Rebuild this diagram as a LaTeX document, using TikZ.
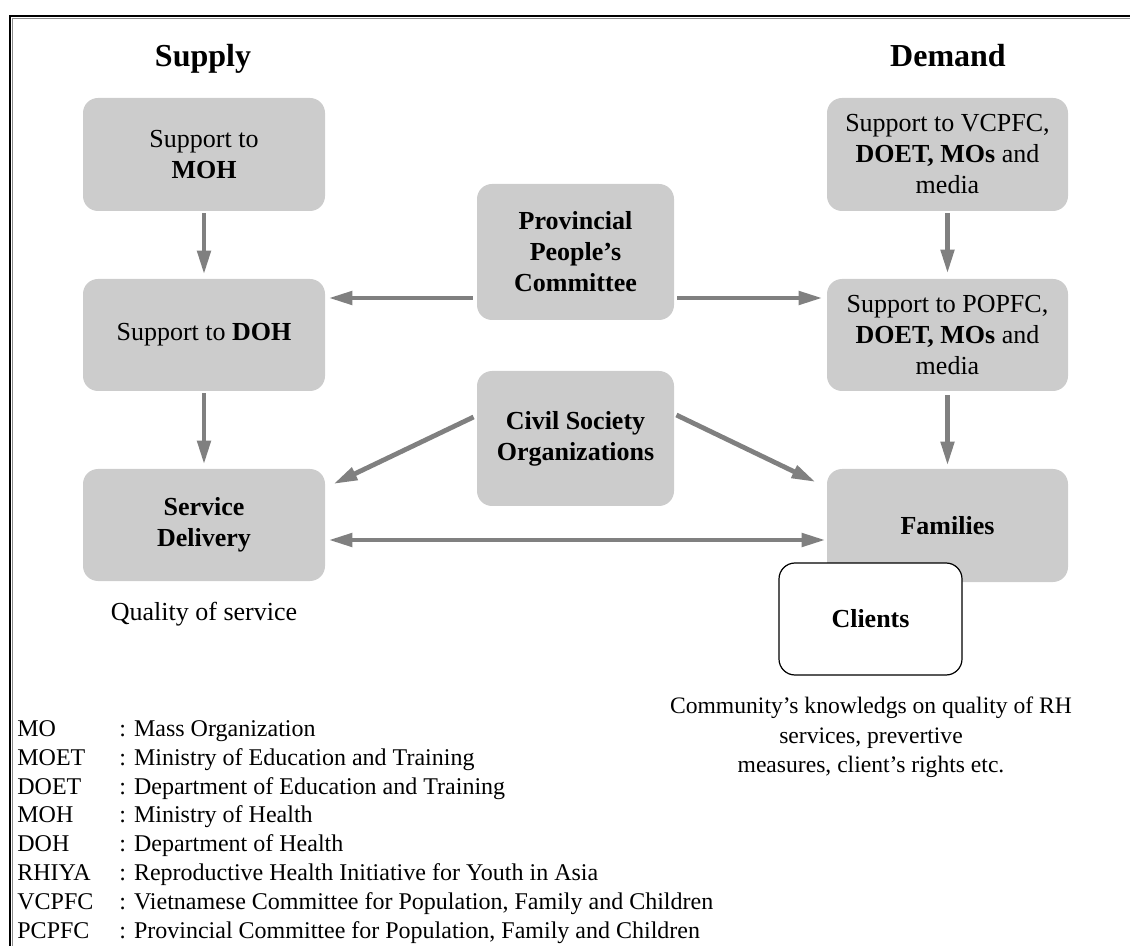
\documentclass[tikz,border=0pt]{standalone}
\usepackage{fontspec}
\setmainfont{Liberation Serif}
\usetikzlibrary{arrows.meta,calc}
\definecolor{boxgray}{HTML}{CCCCCC}
\definecolor{arrgray}{HTML}{808080}
\definecolor{framegray}{HTML}{8C8C8C}
\begin{document}
\begin{tikzpicture}[x=0.5pt,y=-0.5pt,
  box/.style={fill=boxgray, rounded corners=7.5pt, minimum width=121pt, minimum height=56pt,
              align=center, inner sep=0pt, font=\fontsize{13}{15.5}\selectfont},
  clientbox/.style={fill=white, draw=black, line width=0.6pt, rounded corners=8pt,
              minimum width=91.5pt, minimum height=56pt, inner sep=0pt,
              font=\fontsize{13}{15.5}\selectfont\bfseries},
  arr/.style={draw=arrgray, line width=2.4pt, -{Triangle[length=12pt,width=6.5pt]}},
  darr/.style={draw=arrgray, line width=2.4pt, {Triangle[length=12pt,width=6.5pt]}-{Triangle[length=12pt,width=6.5pt]}},
  head/.style={inner sep=0pt, anchor=base, font=\fontsize{16}{19}\selectfont\bfseries},
  txt/.style={inner sep=0pt, font=\fontsize{13}{15.5}\selectfont},
  comtxt/.style={inner sep=0pt, anchor=base, font=\fontsize{11.8}{14}\selectfont},
  leg/.style={inner sep=0pt, anchor=base west, font=\fontsize{12}{14}\selectfont}
]
\useasboundingbox (0,0) rectangle (1130,946);
% frame
\draw[black, line width=0.75pt] (10,946) -- (10,16) -- (1130,16);
\draw[framegray, line width=0.5pt] (12.5,946) -- (12.5,18.5) -- (1130,18.5);

% headings
\node[head] (sup) at (203,67) {Supply};
\node[head] (dem) at (948,67) {Demand};

% left column
\node[box, minimum height=56.5pt] (moh) at (204,154.5) {Support to\\\textbf{MOH}};
\node[box] (doh) at (204,335) {Support to \textbf{DOH}};
\node[box] (sd) at (204,525) {\textbf{Service}\\\textbf{Delivery}};
\node[txt] (qos) at (204,614) {Quality of service};

% middle column
\node[box, minimum width=98.5pt, minimum height=68pt] (ppc) at (575.5,252)
  {\textbf{Provincial}\\\textbf{People's}\\\textbf{Committee}};
\node[box, minimum width=98.5pt, minimum height=67.5pt] (cso) at (575.5,438.5)
  {\textbf{Civil Society}\\\textbf{Organizations}};

% right column
\node[box, minimum width=120.5pt, minimum height=56.5pt] (vc) at (947.5,154.5)
  {Support to VCPFC,\\\textbf{DOET, MOs} and\\media};
\node[box, minimum width=120.5pt] (pc) at (947.5,335)
  {Support to POPFC,\\\textbf{DOET, MOs} and\\media};
\node[box, minimum width=120.5pt, minimum height=56.5pt] (fam) at (947.5,525.5) {\textbf{Families}};
\node[clientbox] (cli) at (870.5,619) {Clients};

\node[comtxt] (com1) at (871,713) {Community's knowledgs on quality of RH};
\node[comtxt] (com2) at (871,743) {services, prevertive};
\node[comtxt] (com3) at (871,772) {measures, client's rights etc.};

% connectors
\coordinate (rowA) at (0,298);
\coordinate (rowB) at (0,540);
\draw[arr] ($(moh.south)+(0,2)$) -- ($(doh.north)+(0,-4)$);
\draw[arr] ($(doh.south)+(0,2)$) -- ($(sd.north)+(0,-4)$);
\draw[arr] ($(vc.south)+(0,2)$) -- ($(pc.north)+(0,-5)$);
\draw[arr] ($(pc.south)+(0,4)$) -- ($(fam.north)+(0,-3)$);
\draw[arr] ($(ppc.west |- rowA)+(-4,0)$) -- ($(doh.east |- rowA)+(3,0)$);
\draw[arr] ($(ppc.east |- rowA)+(3,0)$) -- ($(pc.west |- rowA)+(-4,0)$);
\draw[arr] ($(cso.west)+(-3,-21.5)$) -- ($(sd.east)+(8,-41)$);
\draw[arr] ($(cso.east)+(2,-23.5)$) -- ($(fam.west)+(-11,-43.5)$);
\draw[darr] ($(sd.east |- rowB)+(3,0)$) -- ($(fam.west |- rowB)+(-1,0)$);

% legend
\foreach \ab/\de [count=\i from 0] in {MO/Mass Organization,
  MOET/Ministry of Education and Training,
  DOET/Department of Education and Training,
  MOH/Ministry of Health,
  DOH/Department of Health,
  RHIYA/Reproductive Health Initiative for Youth in Asia,
  VCPFC/{Vietnamese Committee for Population, Family and Children},
  PCPFC/{Provincial Committee for Population, Family and Children}} {
  \node[leg] (la\i) at (17,736.7+28.76*\i) {\ab};
  \node[leg] (lb\i) at (119,736.7+28.76*\i) {: \de};
}
\end{tikzpicture}
\end{document}
